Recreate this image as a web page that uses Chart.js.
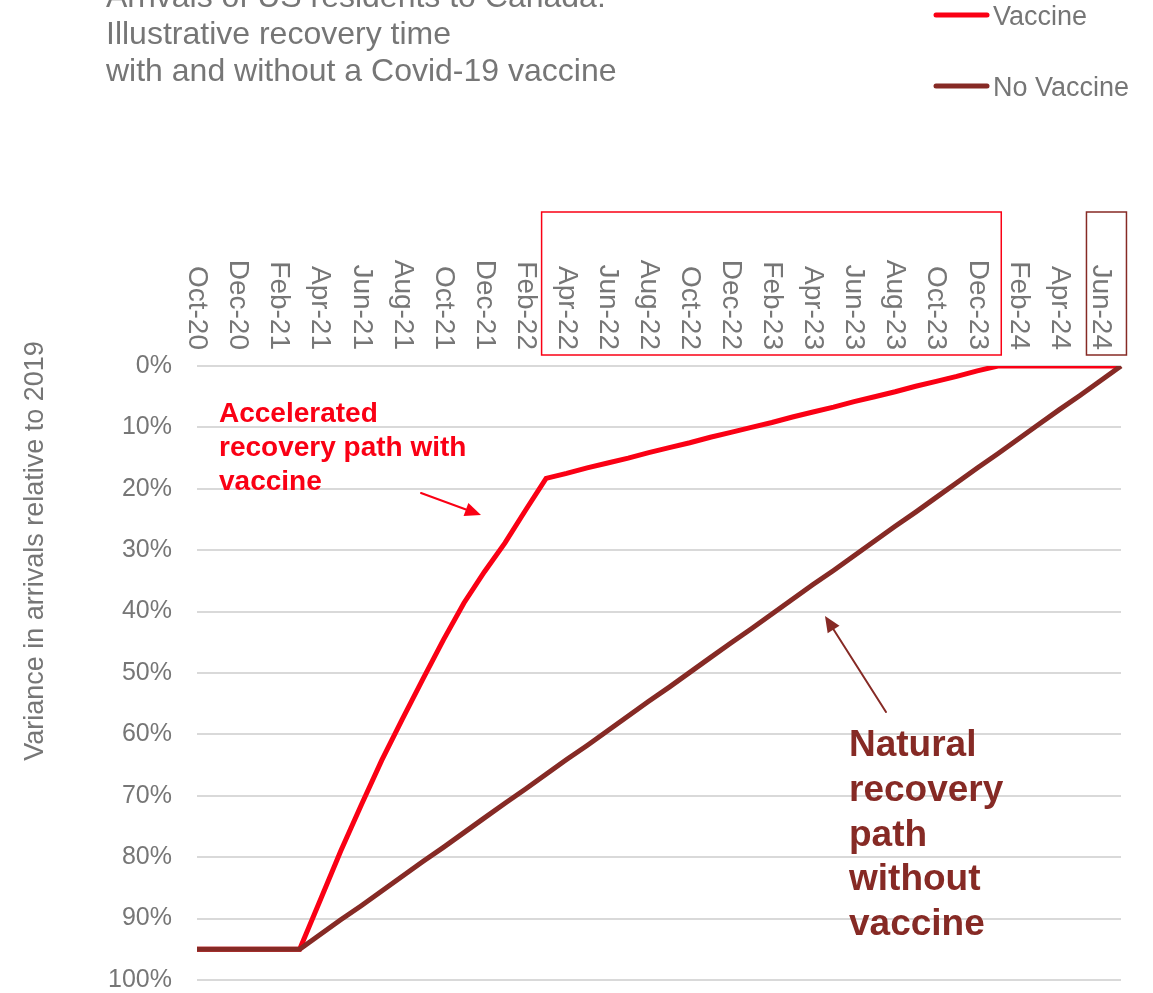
<!DOCTYPE html>
<html>
<head>
<meta charset="utf-8">
<script src="https://cdn.jsdelivr.net/npm/chart.js@4.4.1/dist/chart.umd.min.js"></script>
<style>
  body { margin: 0; background: #fff; overflow: hidden; }
  canvas { display: block; }
</style>
</head>
<body>
<canvas id="myChart" width="1153" height="993"></canvas>
<script>
// months Oct-20 .. Jul-24 (labels shown every 2nd month)
const months = ['Oct-20','Nov-20','Dec-20','Jan-21','Feb-21','Mar-21','Apr-21','May-21','Jun-21','Jul-21','Aug-21','Sep-21',
  'Oct-21','Nov-21','Dec-21','Jan-22','Feb-22','Mar-22','Apr-22','May-22','Jun-22','Jul-22','Aug-22','Sep-22',
  'Oct-22','Nov-22','Dec-22','Jan-23','Feb-23','Mar-23','Apr-23','May-23','Jun-23','Jul-23','Aug-23','Sep-23',
  'Oct-23','Nov-23','Dec-23','Jan-24','Feb-24','Mar-24','Apr-24','May-24','Jun-24','Jul-24'];

// variance in arrivals relative to 2019 (%, shown downwards)
const vaccine = [95,95,95,95,95,95, 87,79,71.5,64.2,57.5,51, 44.6,38.6,33.5,28.8,23.5,18.3,
  17.5,16.6,15.8,15.0,14.1,13.3,12.5,11.6,10.8,10.0,9.2,8.3,7.5,6.7,5.8,5.0,4.2,3.3,2.5,1.7,0.8,
  0,0,0,0,0,0,0];
const noVaccine = [95,95,95,95,95,95, 92.6,90.2,87.9,85.5,83.1,80.7,78.4,76.0,73.6,71.2,68.9,66.5,
  64.1,61.8,59.4,57.0,54.6,52.3,49.9,47.5,45.1,42.8,40.4,38.0,35.6,33.3,30.9,28.5,26.1,23.8,
  21.4,19.0,16.6,14.3,11.9,9.5,7.1,4.8,2.4,0];

const yTicks = [0,10,20,30,40,50,60,70,80,90,100];

const titleLines = ['Arrivals of US residents to Canada:', 'Illustrative recovery time', 'with and without a Covid-19 vaccine'];
const yTitle = 'Variance in arrivals relative to 2019';
const noteVaccine = ['Accelerated', 'recovery path with', 'vaccine'];
const noteNoVaccine = ['Natural', 'recovery', 'path', 'without', 'vaccine'];

const RED = '#fa0014';
const BROWN = '#862a25';
const GREY = '#767676';
const FONT = '"Liberation Sans", Arial, sans-serif';

function arrow(ctx, x1, y1, x2, y2, color) {
  const a = Math.atan2(y2 - y1, x2 - x1);
  const hl = 16, hw = 7;
  ctx.save();
  ctx.strokeStyle = color; ctx.fillStyle = color; ctx.lineWidth = 2;
  ctx.beginPath();
  ctx.moveTo(x1, y1);
  ctx.lineTo(x2 - hl * Math.cos(a), y2 - hl * Math.sin(a));
  ctx.stroke();
  ctx.beginPath();
  ctx.moveTo(x2, y2);
  ctx.lineTo(x2 - hl * Math.cos(a) + hw * Math.sin(a), y2 - hl * Math.sin(a) - hw * Math.cos(a));
  ctx.lineTo(x2 - hl * Math.cos(a) - hw * Math.sin(a), y2 - hl * Math.sin(a) + hw * Math.cos(a));
  ctx.closePath();
  ctx.fill();
  ctx.restore();
}

const extras = {
  id: 'extras',
  afterDraw(chart) {
    const ctx = chart.ctx;
    const xs = chart.scales.x;
    ctx.save();

    // title (top line cut off by the page edge)
    ctx.fillStyle = GREY;
    ctx.font = '32px ' + FONT;
    ctx.textAlign = 'left';
    ctx.textBaseline = 'alphabetic';
    titleLines.forEach((t, i) => ctx.fillText(t, 106, 7 + i * 37));

    // legend
    chart.data.datasets.forEach((ds, i) => {
      const y = 15 + i * 71;
      ctx.strokeStyle = ds.borderColor;
      ctx.lineWidth = 5;
      ctx.lineCap = 'round';
      ctx.beginPath(); ctx.moveTo(936, y); ctx.lineTo(987, y); ctx.stroke();
      ctx.fillStyle = GREY;
      ctx.font = '27px ' + FONT;
      ctx.textBaseline = 'middle';
      ctx.fillText(ds.label, 993, y + 3);
    });

    // x labels on top, rotated, every second month
    ctx.font = '28px ' + FONT;
    ctx.fillStyle = GREY;
    months.forEach((m, i) => {
      if (i % 2 !== 0) return;
      const px = xs.getPixelForValue(i);
      ctx.save();
      ctx.translate(px, 350);
      ctx.rotate(Math.PI / 2);
      ctx.textAlign = 'right';
      ctx.textBaseline = 'middle';
      ctx.fillText(m, 0, 0);
      ctx.restore();
    });

    // highlight boxes
    ctx.lineWidth = 1.5;
    ctx.strokeStyle = RED;
    const b1 = xs.getPixelForValue(18) - 25, b2 = xs.getPixelForValue(38) + 24;
    ctx.strokeRect(b1, 212, b2 - b1, 143);
    ctx.strokeStyle = BROWN;
    const c = xs.getPixelForValue(44);
    ctx.strokeRect(c - 14, 212, 40, 143);

    // y-axis title
    ctx.save();
    ctx.translate(36, 551);
    ctx.rotate(-Math.PI / 2);
    ctx.textAlign = 'center';
    ctx.textBaseline = 'middle';
    ctx.font = '27px ' + FONT;
    ctx.fillStyle = GREY;
    ctx.fillText(yTitle, 0, 0);
    ctx.restore();

    // annotations
    ctx.textAlign = 'left';
    ctx.textBaseline = 'middle';
    ctx.fillStyle = RED;
    ctx.font = 'bold 28px ' + FONT;
    noteVaccine.forEach((t, i) => ctx.fillText(t, 219, 414 + i * 34));
    arrow(ctx, 421, 493, 481, 515, RED);

    ctx.fillStyle = BROWN;
    ctx.font = 'bold 37px ' + FONT;
    noteNoVaccine.forEach((t, i) => ctx.fillText(t, 849, 746 + i * 44.7));
    arrow(ctx, 886, 712, 825, 616, BROWN);

    ctx.restore();
  }
};

const chart = new Chart(document.getElementById('myChart'), {
  type: 'line',
  data: {
    labels: months,
    datasets: [{
      label: 'Vaccine',
      data: vaccine,
      borderColor: RED,
      backgroundColor: RED,
      borderWidth: 5,
      pointRadius: 0,
      tension: 0,
      order: 1
    }, {
      label: 'No Vaccine',
      data: noVaccine,
      borderColor: BROWN,
      backgroundColor: BROWN,
      borderWidth: 5,
      pointRadius: 0,
      tension: 0,
      order: 0
    }]
  },
  options: {
    responsive: false,
    animation: false,
    devicePixelRatio: 1,
    layout: { padding: { top: 366, right: 32, bottom: 13, left: 0 } },
    plugins: {
      legend: { display: false },
      title: { display: false },
      tooltip: { enabled: false }
    },
    scales: {
      x: { display: false },
      y: {
        reverse: true,
        min: 0,
        max: 100,
        afterBuildTicks: (s) => { s.ticks = yTicks.map(v => ({ value: v })); },
        afterFit: (s) => { s.width = 197; s.paddingTop = 0; s.paddingBottom = 0; },
        ticks: {
          callback: (v) => v + '%',
          color: GREY,
          font: { family: FONT, size: 25 },
          padding: 25
        },
        grid: { color: '#d9d9d9', lineWidth: 2, drawTicks: false },
        border: { display: false }
      }
    }
  },
  plugins: [extras]
});
</script>
</body>
</html>
